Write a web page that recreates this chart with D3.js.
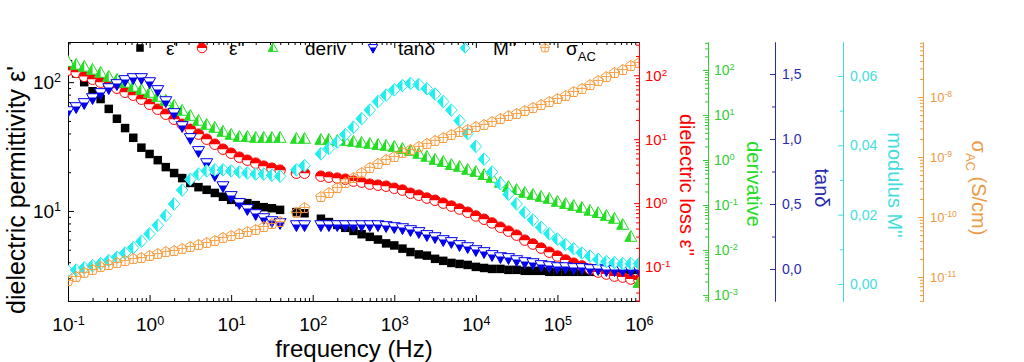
<!DOCTYPE html>
<html>
<head>
<meta charset="utf-8">
<script src="https://cdn.jsdelivr.net/npm/d3@7"></script>
<style>
  body { margin: 0; background: #fff; }
  svg { display: block; font-family: "Liberation Sans", Arial, sans-serif; }
</style>
</head>
<body>
<svg width="1024" height="362"></svg>
<script>
// frequency grid (Hz) - 50 Hz and 100 Hz points are missing in the measurement
const freq = [0.1, 0.126, 0.158, 0.2, 0.251, 0.316, 0.398, 0.501, 0.631, 0.794,
  1, 1.26, 1.58, 2, 2.51, 3.16, 3.98, 5.01, 6.31, 7.94,
  10, 12.6, 15.8, 20, 25.1, 31.6, 39.8, 63.1, 79.4,
  126, 158, 200, 251, 316, 398, 501, 631, 794,
  1000, 1260, 1580, 2000, 2510, 3160, 3980, 5010, 6310, 7940,
  1e4, 12600, 15800, 20000, 25100, 31600, 39800, 50100, 63100, 79400,
  1e5, 126000, 158000, 200000, 251000, 316000, 398000, 501000, 631000, 794000,
  1e6];

const epsReal = [138, 117, 100, 85, 74, 62, 52, 44, 37, 31,
  27.7, 24.8, 21.9, 19.7, 18.0, 16.5, 15.3, 14.6, 13.8, 12.9,
  12.2, 11.7, 11.5, 11.1, 10.7, 10.5, 10.2,
  9.8, 9.6,
  8.7, 8.2, 7.8, 7.4, 7.0, 6.6, 6.3, 6.0, 5.6, 5.4,
  5.1, 4.8, 4.6, 4.5, 4.25, 4.1, 3.95, 3.88, 3.81, 3.68,
  3.61, 3.55, 3.55, 3.49, 3.49, 3.43, 3.43, 3.43, 3.37, 3.37,
  3.37, 3.37, 3.37, 3.37, 3.37, 3.37, 3.43, 3.43, 3.49, 3.49];

const epsImag = [120, 111, 96, 86.6, 77.8, 69.8, 62.7, 54.2, 48.7, 42.2,
  35.2, 29.4, 24.6, 20.5, 17.1, 14.3, 12.0, 10.0, 8.35, 6.98,
  6.04, 5.23, 4.70, 4.22, 3.79, 3.52, 3.28,
  2.94, 2.94,
  2.64, 2.55, 2.46, 2.37, 2.21, 2.13, 1.98, 1.91, 1.84, 1.71,
  1.60, 1.43, 1.33, 1.20, 1.11, 1.00, 0.90, 0.81, 0.72, 0.63,
  0.56, 0.49, 0.42, 0.365, 0.316, 0.264, 0.229, 0.198, 0.171, 0.149,
  0.129, 0.115, 0.104, 0.093, 0.0835, 0.0778, 0.0723, 0.0698, 0.065, 0.0627];

const deriv = [150, 129, 117, 100, 85.8, 69.9, 59.9, 51.4, 41.9, 35.9,
  30.8, 25.1, 20.5, 15.8, 12.3, 9.5, 7.36, 6.0, 5.14, 4.19,
  3.59, 3.24, 3.24, 3.08, 3.08, 3.08, 3.08,
  2.93, 2.93,
  2.78, 2.78, 2.64, 2.64, 2.51, 2.39, 2.27, 2.15, 2.05, 1.94,
  1.75, 1.58, 1.36, 1.17, 1.0, 0.90, 0.77, 0.70, 0.60, 0.54,
  0.46, 0.40, 0.31, 0.25, 0.215, 0.185, 0.167, 0.151, 0.136, 0.117,
  0.105, 0.095, 0.086, 0.074, 0.066, 0.057, 0.049, 0.036, 0.0195, 0.00185];

const tanDelta = [1.215, 1.246, 1.277, 1.315, 1.354, 1.392, 1.423, 1.454, 1.469, 1.469,
  1.438, 1.377, 1.292, 1.2, 1.1, 1.008, 0.908, 0.815, 0.723, 0.638,
  0.562, 0.508, 0.462, 0.423, 0.392, 0.369, 0.354,
  0.338, 0.338,
  0.338, 0.338, 0.338, 0.338, 0.338, 0.338, 0.338, 0.338, 0.331, 0.323,
  0.315, 0.3, 0.285, 0.262, 0.246, 0.223, 0.208, 0.185, 0.169, 0.146,
  0.131, 0.108, 0.092, 0.085, 0.069, 0.054, 0.046, 0.031, 0.023, 0.015,
  0.015, 0.008, 0.008, 0.0, 0.0, -0.008, -0.008, -0.008, -0.008, -0.008];

const modulus = [0.00369, 0.0040, 0.00462, 0.00523, 0.00585, 0.00677, 0.00769, 0.00892, 0.01046, 0.01231,
  0.01446, 0.01692, 0.01969, 0.02308, 0.02708, 0.03015, 0.03169, 0.03262, 0.03292, 0.03292,
  0.03262, 0.03231, 0.0320, 0.03169, 0.03169, 0.03138, 0.03108,
  0.03292, 0.03415,
  0.03754, 0.03908, 0.04092, 0.04308, 0.04523, 0.04769, 0.05015, 0.05262, 0.05446, 0.056,
  0.05723, 0.05785, 0.05754, 0.05631, 0.05477, 0.05262, 0.05015, 0.04708, 0.04338, 0.03969,
  0.036, 0.03231, 0.02892, 0.02585, 0.02308, 0.02062, 0.01846, 0.01631, 0.01446, 0.01292,
  0.01138, 0.01015, 0.00892, 0.008, 0.00708, 0.00646, 0.00615, 0.00585, 0.00585, 0.00585];

const sigmaAC = [8.58e-12, 1.0e-11, 1.17e-11, 1.31e-11, 1.47e-11, 1.58e-11, 1.71e-11, 1.85e-11, 2.0e-11, 2.07e-11,
  2.24e-11, 2.42e-11, 2.61e-11, 2.71e-11, 2.93e-11, 3.16e-11, 3.42e-11, 3.69e-11, 3.98e-11, 4.47e-11,
  4.82e-11, 5.21e-11, 5.62e-11, 6.07e-11, 6.81e-11, 7.64e-11, 8.25e-11,
  1.17e-10, 1.41e-10,
  2.15e-10, 2.51e-10, 3.04e-10, 3.69e-10, 4.47e-10, 5.41e-10, 6.56e-10, 7.64e-10, 8.91e-10, 1.0e-9,
  1.17e-9, 1.31e-9, 1.47e-9, 1.65e-9, 1.85e-9, 2.07e-9, 2.33e-9, 2.61e-9, 2.82e-9, 3.16e-9,
  3.42e-9, 3.83e-9, 4.30e-9, 4.82e-9, 5.21e-9, 5.84e-9, 6.56e-9, 7.36e-9, 8.25e-9, 9.26e-9,
  1.04e-8, 1.21e-8, 1.36e-8, 1.58e-8, 1.85e-8, 2.15e-8, 2.51e-8, 2.82e-8, 3.29e-8, 3.69e-8];

const legendLabels = ["ε'", "ε''", "deriv", "tanδ", "M''", "σ"];

// colours
const cBlack = "#000000", cRed = "#ff0000", cGreen = "#22dd22", cBlue = "#0000ee",
  cCyan = "#22eeee", cOrange = "#f99a3a";
const cBlueAxis = "#2a2ab0", cGreenAxis = "#33cc33", cCyanAxis = "#44dddd", cOrangeAxis = "#ee9a44";

const L = 68, R = 639, T = 42, B = 301;
const svg = d3.select("svg");

var x = d3.scaleLog().domain([0.1, 1e6]).range([L, R]);
var yEps = d3.scaleLog().domain([2.0, 205]).range([B, T]);
var yLoss = d3.scaleLog().domain([0.0295, 331]).range([B, T]);
var yDeriv = d3.scaleLog().domain([7.4e-4, 417]).range([B, T]);
var yTan = d3.scaleLinear().domain([-0.246, 1.746]).range([B, T]);
var yMod = d3.scaleLinear().domain([-0.00492, 0.0698]).range([B, T]);
var ySig = d3.scaleLog().domain([3.98e-12, 8.26e-8]).range([B, T]);

function logTicks(scale) {
  const [a, b] = scale.domain();
  const major = [], minor = [];
  for (let e = Math.floor(Math.log10(a)); e <= Math.ceil(Math.log10(b)); e++) {
    for (let m = 1; m <= 9; m++) {
      const v = m * Math.pow(10, e);
      if (v < a * 0.999 || v > b * 1.001) continue;
      if (m === 1) major.push(v); else minor.push(v);
    }
  }
  return [major, minor];
}

function powLabels(g, size) {
  g.selectAll(".tick text").each(function (d) {
    const t = d3.select(this).text(null);
    t.append("tspan").text("10");
    t.append("tspan").attr("dy", "-0.5em").attr("font-size", size * 0.66)
      .text(Math.round(Math.log10(d)));
  });
}

function styleAxis(g, color, size) {
  g.attr("color", color).attr("font-size", size)
    .attr("font-family", "'Liberation Sans', Arial, sans-serif");
  g.selectAll("line,path").attr("stroke-width", 1);
}

// ---- bottom / top x axis ----
const [xMaj, xMin] = logTicks(x);
const gx = svg.append("g").attr("transform", `translate(0,${B})`)
  .call(d3.axisBottom(x).tickValues(xMaj).tickSizeInner(-6).tickSizeOuter(0).tickPadding(17).tickFormat(() => ""));
styleAxis(gx, cBlack, 19);
powLabels(gx, 19);
svg.append("g").attr("transform", `translate(0,${B})`)
  .call(d3.axisBottom(x).tickValues(xMin).tickSizeInner(-3).tickSizeOuter(0).tickFormat(() => ""))
  .attr("color", cBlack);
svg.append("g").attr("transform", `translate(0,${T})`)
  .call(d3.axisTop(x).tickValues(xMaj).tickSizeInner(-6).tickSizeOuter(0).tickFormat(() => ""))
  .attr("color", cBlack);
svg.append("g").attr("transform", `translate(0,${T})`)
  .call(d3.axisTop(x).tickValues(xMin).tickSizeInner(-3).tickSizeOuter(0).tickFormat(() => ""))
  .attr("color", cBlack);

// ---- left axis ----
const [eMaj, eMin] = logTicks(yEps);
const gy = svg.append("g").attr("transform", `translate(${L},0)`)
  .call(d3.axisLeft(yEps).tickValues(eMaj).tickSizeInner(-6).tickSizeOuter(0).tickPadding(7).tickFormat(() => ""));
styleAxis(gy, cBlack, 19);
powLabels(gy, 19);
svg.append("g").attr("transform", `translate(${L},0)`)
  .call(d3.axisLeft(yEps).tickValues(eMin).tickSizeInner(-3).tickSizeOuter(0).tickFormat(() => ""))
  .attr("color", cBlack);

// ---- right-hand axes (ticks point left, labels to the right) ----
function rightLogAxis(scale, xPos, color, size, pad) {
  const [maj, min] = logTicks(scale);
  const g = svg.append("g").attr("transform", `translate(${xPos},0)`)
    .call(d3.axisRight(scale).tickValues(maj).tickSizeInner(-5).tickSizeOuter(0).tickPadding(pad).tickFormat(() => ""));
  styleAxis(g, color, size);
  powLabels(g, size);
  svg.append("g").attr("transform", `translate(${xPos},0)`)
    .call(d3.axisRight(scale).tickValues(min).tickSizeInner(-3).tickSizeOuter(0).tickFormat(() => ""))
    .attr("color", color);
}
function rightLinAxis(scale, xPos, color, size, pad, maj, min, fmt) {
  const g = svg.append("g").attr("transform", `translate(${xPos},0)`)
    .call(d3.axisRight(scale).tickValues(maj).tickSizeInner(-5).tickSizeOuter(0).tickPadding(pad)
      .tickFormat(d => d3.format(fmt)(d).replace(".", ",")));
  styleAxis(g, color, size);
  svg.append("g").attr("transform", `translate(${xPos},0)`)
    .call(d3.axisRight(scale).tickValues(min).tickSizeInner(-3).tickSizeOuter(0).tickFormat(() => ""))
    .attr("color", color);
}

rightLogAxis(yLoss, R, cRed, 15, 6);
rightLogAxis(yDeriv, 708, cGreenAxis, 14, 6);
rightLinAxis(yTan, 775, cBlueAxis, 14, 7, [0, 0.5, 1.0, 1.5], [0.25, 0.75, 1.25], ".1f");
rightLinAxis(yMod, 843, cCyanAxis, 14, 7, [0, 0.02, 0.04, 0.06], [0.01, 0.03, 0.05], ".2f");
rightLogAxis(ySig, 923, cOrangeAxis, 13, 7);

// ---- axis titles ----
function title(txt, tx, ty, rot, color, size) {
  return svg.append("text").attr("transform", `translate(${tx},${ty}) rotate(${rot})`)
    .attr("text-anchor", "middle").attr("fill", color).attr("font-size", size).text(txt);
}
title("dielectric permittivity ε'", 25, 190, -90, cBlack, 25);
title("frequency (Hz)", 354, 357, 0, cBlack, 24);
title("dielectric loss ε''", 680, 185, 90, cRed, 20);
title("derivative", 747, 184, 90, cGreen, 20);
title("tanδ", 815, 188, 90, cBlueAxis, 20);
title("modulus M''", 888, 185, 90, cCyanAxis, 20);
const st = title("", 972, 188, 90, cOrangeAxis, 20);
st.append("tspan").text("σ");
st.append("tspan").attr("dy", 6).attr("font-size", 13).text("AC");
st.append("tspan").attr("dy", -6).text(" (S/cm)");

// ---- marker shapes ----
function square(g, s) {
  g.append("rect").attr("x", -s / 2).attr("y", -s / 2).attr("width", s).attr("height", s).attr("fill", cBlack);
}
function halfCircle(g, s) {
  const r = s / 2;
  g.append("circle").attr("r", r).attr("fill", "#fff").attr("stroke", cRed);
  g.append("path").attr("d", `M${-r},0A${r},${r} 0 0 1 ${r},0Z`).attr("fill", cRed);
}
function triUp(g, s) {
  const h = s * 0.9;
  g.append("path").attr("d", `M0,${-h * 0.6}L${s / 2},${h * 0.4}L${-s / 2},${h * 0.4}Z`)
    .attr("fill", "#fff").attr("stroke", cGreen);
  g.append("path").attr("d", `M0,${-h * 0.6}L0,${h * 0.4}L${-s / 2},${h * 0.4}Z`).attr("fill", cGreen);
}
function triDown(g, s) {
  const h = s * 0.9, top = -h * 0.4, bot = h * 0.6, cut = top + h * 0.35;
  const hw = (s / 2) * (bot - cut) / h;
  g.append("path").attr("d", `M${-s / 2},${top}L${s / 2},${top}L0,${bot}Z`)
    .attr("fill", "#fff").attr("stroke", cBlue);
  g.append("path").attr("d", `M${-hw},${cut}L${hw},${cut}L0,${bot}Z`).attr("fill", cBlue);
}
function diamond(g, s) {
  const w = s / 2, h = s * 0.55;
  g.append("path").attr("d", `M0,${-h}L${w},0L0,${h}L${-w},0Z`).attr("fill", "#fff").attr("stroke", cCyan);
  g.append("path").attr("d", `M0,${-h}L0,${h}L${-w},0Z`).attr("fill", cCyan);
}
function pentagon(g, s) {
  const r = s / 2;
  const pts = d3.range(5).map(i => {
    const a = -Math.PI / 2 + i * 2 * Math.PI / 5;
    return [r * Math.cos(a), r * Math.sin(a)];
  });
  g.append("path").attr("d", "M" + pts.join("L") + "Z").attr("fill", "none").attr("stroke", cOrange);
  g.append("path").attr("d", `M0,${-r}L0,${r * 0.81}M${-r * 0.95},${-r * 0.1}L${r * 0.95},${-r * 0.1}`)
    .attr("stroke", cOrange).attr("stroke-width", 0.9);
}

// ---- data points ----
svg.append("clipPath").attr("id", "plotClip")
  .append("rect").attr("x", L).attr("y", T).attr("width", R - L).attr("height", B - T);
const plotG = svg.append("g").attr("clip-path", "url(#plotClip)");

function drawSeries(values, yScale, shape, size) {
  plotG.append("g").selectAll("g")
    .data(freq.map((f, i) => ({ f: f, v: values[i] })))
    .join("g")
    .attr("transform", d => `translate(${x(d.f)},${yScale(d.v)})`)
    .each(function () { shape(d3.select(this), size); });
}
drawSeries(epsReal, yEps, square, 8.5);
drawSeries(epsImag, yLoss, halfCircle, 10.5);
drawSeries(deriv, yDeriv, triUp, 12);
drawSeries(tanDelta, yTan, triDown, 12);
drawSeries(modulus, yMod, diamond, 11.5);
drawSeries(sigmaAC, ySig, pentagon, 11);

// ---- legend ----
const legendShapes = [square, halfCircle, triUp, triDown, diamond, pentagon];
const legendMarkX = [140, 202, 273, 373, 465, 545];
const legendTextX = [166, 229, 305, 398, 493, 566];
const legY = 48;
legendLabels.forEach((lab, i) => {
  const g = svg.append("g").attr("transform", `translate(${legendMarkX[i]},${legY})`);
  legendShapes[i](g, i === 0 ? 7.5 : 9.5);
  const t = svg.append("text").attr("x", legendTextX[i]).attr("y", legY + 7)
    .attr("font-size", 19).attr("fill", cBlack).text(lab);
  if (lab === "σ") t.append("tspan").attr("dy", 6).attr("font-size", 13).text("AC");
});
</script>
</body>
</html>
